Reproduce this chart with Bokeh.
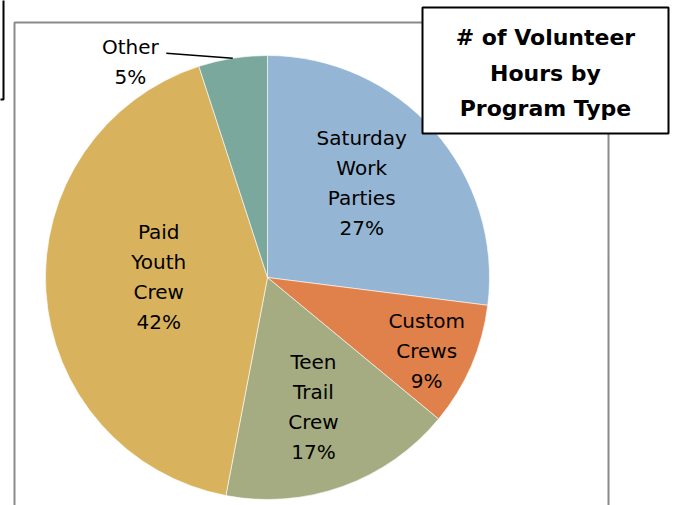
import math
from bokeh.plotting import figure
from bokeh.models import Range1d, ColumnDataSource
from bokeh.core.properties import value
from bokeh.embed import file_html
from bokeh.resources import INLINE

# ---- data ----
categories = ["Saturday Work Parties", "Custom Crews", "Teen Trail Crew", "Paid Youth Crew", "Other"]
label_texts = ["Saturday\nWork\nParties", "Custom\nCrews", "Teen\nTrail\nCrew", "Paid\nYouth\nCrew", "Other"]
shares = [27, 9, 17, 42, 5]
colors = ["#94B5D3", "#E0804A", "#A5AC82", "#D9B25D", "#7BA89C"]
title_lines = ["# of Volunteer", "Hours by", "Program Type"]

# ---- layout ----
W, H = 675, 505
CX, CY, R = 267, H - 277, 222
# label placement (angle shift in degrees, radius fraction) per slice
lab_dtheta = [-3.6, 1.4, 0.3, 4.1, -23.5]
lab_frac = [0.60, 0.79, 0.62, 0.49, 1.15]
FONT = "DejaVu Sans"

p = figure(width=W, height=H, x_range=Range1d(0, W), y_range=Range1d(0, H),
           output_backend="svg", toolbar_location=None, min_border=0)
p.axis.visible = False
p.grid.visible = False
p.outline_line_color = None
p.background_fill_color = "white"
p.border_fill_color = "white"

# gray chart-area frame
p.quad(left=[14], right=[608], top=[H - 22], bottom=[-20], fill_color=None,
       line_color="#8A8A8A", line_width=2)
# partial black box at top-left
p.quad(left=[-20], right=[3], top=[H + 20], bottom=[H - 99], fill_color=None,
       line_color="black", line_width=2)

total = float(sum(shares))
starts, ends, lx, ly, txt = [], [], [], [], []
cum = 0.0
for i, s in enumerate(shares):
    a0 = cum / total
    cum += s
    a1 = cum / total
    starts.append(math.pi / 2 - a0 * 2 * math.pi)
    ends.append(math.pi / 2 - a1 * 2 * math.pi)
    mid = (a0 + a1) / 2 * 360 + lab_dtheta[i]
    th = math.radians(mid)
    lx.append(CX + R * lab_frac[i] * math.sin(th))
    ly.append(CY + R * lab_frac[i] * math.cos(th))
    pct = round(s / total * 100)
    txt.append(f"{label_texts[i]}\n{pct}%")

src = ColumnDataSource(dict(start=starts, end=ends, color=colors, cat=categories,
                            lx=lx, ly=ly, txt=txt))
p.wedge(x=CX, y=CY, radius=R, start_angle="start", end_angle="end",
        direction="clock", fill_color="color", line_color="white", line_width=0.6,
        source=src)

p.text(x="lx", y="ly", text="txt", source=src, text_align="center",
       text_baseline="middle", text_font=value(FONT), text_font_size="20px",
       text_line_height=1.25, text_color="black")

# leader line for "Other"
oi = 4
a_mid = math.radians((sum(shares[:oi]) + shares[oi] / 2) / total * 360)
ex, ey = CX + R * math.sin(a_mid), CY + R * math.cos(a_mid)
p.line(x=[lx[oi] + 36, ex], y=[ly[oi] + 9, ey], line_color="black", line_width=1.5)

# title box
p.quad(left=[422], right=[668], top=[H - 7], bottom=[H - 133], fill_color="white",
       line_color="black", line_width=2)
p.text(x=[545] * 3, y=[H - 37, H - 72.5, H - 108], text=title_lines,
       text_align="center", text_baseline="middle", text_font=value(FONT),
       text_font_style="bold", text_font_size="22px", text_color="black")

open("out.html", "w").write(file_html(p, INLINE))
